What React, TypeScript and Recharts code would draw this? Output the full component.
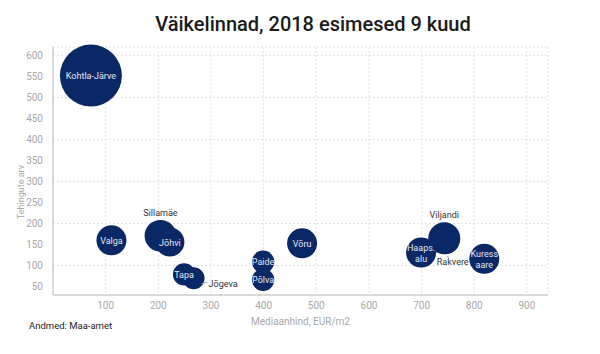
import {
  CartesianGrid,
  Scatter,
  ScatterChart,
  XAxis,
  YAxis,
  ZAxis,
} from 'recharts'

const towns = [
  'Rakvere', 'Kohtla-Järve', 'Valga', 'Sillamäe', 'Jõhvi', 'Tapa', 'Jõgeva',
  'Paide', 'Põlva', 'Võru', 'Haapsalu', 'Viljandi', 'Kuressaare',
]
const medianPrice = [746, 72, 111, 204, 222, 249, 267, 399, 399, 473, 699, 743, 819]
const dealCount = [160, 552, 160, 171, 156, 79, 70, 109, 66, 153, 131, 165, 116]
const bubbleSize = [190, 960, 225, 250, 210, 125, 120, 125, 125, 225, 225, 256, 225]

const xTicks = [100, 200, 300, 400, 500, 600, 700, 800, 900]
const yTicks = [50, 100, 150, 200, 250, 300, 350, 400, 450, 500, 550, 600]

const data = towns.map((name, i) => ({
  name,
  x: medianPrice[i],
  y: dealCount[i],
  z: bubbleSize[i],
}))

// how each label is placed; default is centred inside the bubble
const labelLines: Record<string, string[]> = {
  Haapsalu: ['Haaps.', 'alu'],
  Kuressaare: ['Kuress', 'aare'],
}
const outside: Record<string, 'above' | 'belowRight'> = {
  Sillamäe: 'above',
  Viljandi: 'above',
  Jõgeva: 'belowRight',
  Rakvere: 'belowRight',
}

const navy = '#0a2766'
const font = 'Roboto, "Noto Sans", sans-serif'

function Bubble(props: any) {
  const { cx, cy, size } = props
  const r = Math.sqrt(size / Math.PI)
  return <circle cx={cx} cy={cy} r={r} fill={navy} />
}

function BubbleLabel(props: any) {
  const { cx, cy, size, payload } = props
  const r = Math.sqrt(size / Math.PI)
  const name: string = payload.name
  const place = outside[name]
  if (place === 'above') {
    return (
      <text x={cx} y={cy - r - 4} textAnchor="middle" fontSize={9} fill="#333" fontFamily={font}>
        {name}
      </text>
    )
  }
  if (place === 'belowRight') {
    const rak = name === 'Rakvere'
    const lx = rak ? cx - 9 : cx + r + 4
    const ly = rak ? cy + r + 11 : cy + 9
    return (
      <g>
        <line
          x1={rak ? cx + 1 : cx + r * 0.7}
          y1={rak ? cy + r + 2 : cy + r * 0.5}
          x2={rak ? cx + 3 : lx - 1}
          y2={rak ? ly - 8 : ly - 5}
          stroke="#7a90b8"
          strokeWidth={0.8}
        />
        <text x={lx} y={ly} fontSize={9} fill="#333" fontFamily={font}>
          {name}
        </text>
      </g>
    )
  }
  const lines = labelLines[name] || [name]
  return (
    <text x={cx} textAnchor="middle" fontSize={9} fill="#e3e7f1" fontFamily={font}>
      {lines.map((l, i) => (
        <tspan key={l} x={cx} y={cy + 3.5 + (i - (lines.length - 1) / 2) * 11}>
          {l}
        </tspan>
      ))}
    </text>
  )
}

export default function App() {
  return (
    <div style={{ position: 'absolute', left: 0, top: 0, width: 600, height: 354, background: '#fff', fontFamily: font }}>
      <div
        style={{
          position: 'absolute',
          top: 12,
          left: 0,
          width: 600,
          textAlign: 'center',
          fontSize: 20,
          fontWeight: 500,
          color: '#1a1a1a',
          paddingLeft: 26,
          boxSizing: 'border-box',
        }}
      >
        Väikelinnad, 2018 esimesed 9 kuud
      </div>
      <ScatterChart width={600} height={354} margin={{ top: 47, right: 52, left: 0, bottom: 0 }}>
        <CartesianGrid stroke="#e2e2e2" strokeDasharray="2 2" />
        <XAxis
          type="number"
          dataKey="x"
          domain={[0, 940]}
          ticks={xTicks}
          height={59}
          tickLine={false}
          axisLine={{ stroke: '#cfcfcf', strokeWidth: 1.5 }}
          tick={{ fontSize: 10, fill: '#a8a8a8', fontFamily: font }}
          tickMargin={1}
          label={{ value: 'Mediaanhind, EUR/m2', position: 'insideBottom', offset: 29, fontSize: 10, fill: '#a8a8a8', fontFamily: font }}
        />
        <YAxis
          type="number"
          dataKey="y"
          domain={[30, 620]}
          ticks={yTicks}
          width={53}
          tickLine={false}
          axisLine={{ stroke: '#cfcfcf', strokeWidth: 1.5 }}
          tick={{ fontSize: 10, fill: '#a8a8a8', fontFamily: font }}
          tickMargin={4}
        />
        <ZAxis type="number" dataKey="z" domain={[0, 1000]} range={[0, 3142]} />
        <Scatter data={data} shape={Bubble} isAnimationActive={false} />
        <Scatter data={data} shape={BubbleLabel} isAnimationActive={false} />
      </ScatterChart>
      <div
        style={{
          position: 'absolute',
          left: 21,
          top: 192,
          transform: 'translate(-50%, -50%) rotate(-90deg)',
          fontSize: 9,
          color: '#a8a8a8',
          whiteSpace: 'nowrap',
        }}
      >
        Tehingute arv
      </div>
      <div style={{ position: 'absolute', left: 29, top: 320, fontSize: 9.5, color: '#222' }}>
        Andmed: Maa-amet
      </div>
    </div>
  )
}
